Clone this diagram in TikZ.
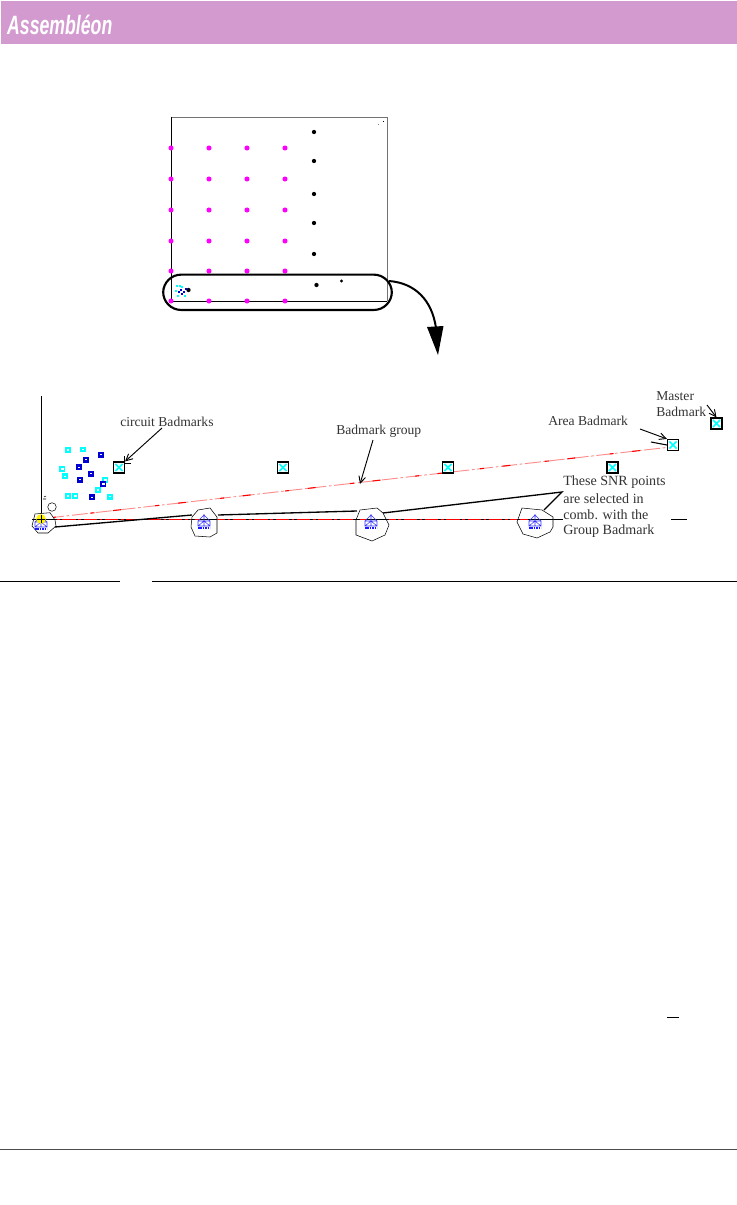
\documentclass[tikz,border=0pt]{standalone}
\usepackage{fontspec}
\setmainfont{Liberation Serif}
\newfontfamily\logofont{Liberation Sans}
\usetikzlibrary{arrows.meta}
\definecolor{hdr}{HTML}{D39ACF}
\definecolor{mag}{HTML}{FF00FF}
\definecolor{cy}{HTML}{00FFFF}
\definecolor{bl}{HTML}{0000D0}
\tikzset{
 lbl/.style={anchor=west,inner sep=0pt,font=\fontsize{10.2pt}{11pt}\selectfont,text=black!80},
 snr/.style={lbl,font=\fontsize{10.55pt}{11pt}\selectfont},
 magdot/.style={circle,fill=mag,draw=none,minimum size=3.8pt,inner sep=0pt},
 blkdot/.style={circle,fill=black,draw=none,minimum size=3.2pt,inner sep=0pt},
 smallc/.style={fill=cy,draw=none,minimum size=4.4pt,inner sep=0pt},
 smallb/.style={fill=bl,draw=none,minimum size=4.4pt,inner sep=0pt},
 badbox/.style={draw=black,line width=1.1pt,fill=white,minimum size=8pt,inner sep=0pt},
 leader/.style={line width=1pt,black},
 arr/.style={line width=.7pt,-{Straight Barb[length=5pt,width=5pt]}},
 blob/.style={draw=black,line width=.4pt,fill=white},
}
\newcommand{\badbox}[3]{%
 \node[badbox] (#1) at (#2,#3) {};
 \draw[cy,line width=1.2pt] (#2-3.6,#3-3.6) -- (#2+3.6,#3+3.6) (#2-3.6,#3+3.6) -- (#2+3.6,#3-3.6);
}
\newcommand{\house}[2]{%
 \draw[blue!80,line width=.4pt] (#1-6,#2+1) rectangle (#1+6,#2+6)
   (#1-6,#2+1) -- (#1,#2-5) -- (#1+6,#2+1) (#1,#2-6) -- (#1,#2+6) (#1-6,#2+6) -- (#1,#2+1) -- (#1+6,#2+6);
 \draw[blue!90,line width=1pt,dash pattern=on 1.2pt off .6pt] (#1-6,#2+8) -- (#1+6,#2+8);
}
\begin{document}
\begin{tikzpicture}[x=0.75pt,y=-0.75pt]
\useasboundingbox (0,0) rectangle (737,1205);
% header
\fill[hdr] (1,1) rectangle (737,44);
\node[anchor=west,inner sep=0pt,text=white,xscale=.68,yscale=1.02] (logo) at (7,24.5) {\logofont\fontsize{19.5pt}{20pt}\selectfont\bfseries\itshape Assembl\'eon};
% board
\coordinate (bTL) at (171,117); \coordinate (bTR) at (387,117);
\coordinate (bBL) at (171,301); \coordinate (bBR) at (387,301);
\draw[black!55,line width=.7pt] (bTL) -- (bTR) -- (bBR);
\draw[black,line width=.7pt] (bTL) -- (bBL) -- (bBR);
\foreach \y [count=\j] in {148,179,210,241,271,301}
 \foreach \x [count=\i] in {171,209,247,285}
  \node[magdot] (m\i\j) at (\x,\y) {};
\foreach \y [count=\j] in {132,161,194,223,254}
 \node[blkdot] (k\j) at (314,\y) {};
\node[blkdot] (k6) at (316.5,285) {};
\node[blkdot,minimum size=2.6pt] (k7) at (341.5,281) {};
\node[blkdot] (k8) at (188.5,290) {};
\fill[black!50] (378,124) rectangle +(1,1);
\fill[black] (383,121) rectangle +(1,1);
% tiny cluster in board
\foreach \p in {(177,286),(180,286),(176,291),(178,296),(185,296),(182,287)}
 \fill[cy] \p +(-1,-1) rectangle +(1,1);
\foreach \p in {(181,290),(184,292),(182,294),(179,292),(186,289)}
 \fill[bl] \p +(-1,-1) rectangle +(1,1);
% highlight
\node[draw=black,line width=1.6pt,rounded corners=13.5pt,minimum width=171.5pt,minimum height=26.5pt,inner sep=0pt] (hl) at (277.5,292.3) {};
\coordinate (cStart) at (389,281);
\coordinate (cEnd) at (436,328);
\draw[line width=1.5pt] (cStart) .. controls (415,283) and (432,300) .. (cEnd);
\fill[black] (427,327) -- (443.5,326) -- (438,355) -- cycle;
% lower axis
\coordinate (axT) at (41.5,396); \coordinate (axB) at (41.5,520);
\draw[black,line width=.8pt] (axT) -- (axB);
\coordinate (hL) at (41,519.5); \coordinate (hR) at (563,519.5);
\draw[black,line width=.7pt] (hL) -- (hR);
\draw[red,line width=.7pt,dash pattern=on 10pt off 2pt on 2pt off 2pt] (hL) -- (518,519.5);
\coordinate (h2L) at (671,519.5); \coordinate (h2R) at (687,519.5);
\draw[black,line width=.7pt] (h2L) -- (h2R);
% red group line
\coordinate (rS) at (48,518); \coordinate (rE) at (671,447);
\draw[red!45,line width=.7pt,dash pattern=on 12pt off 2pt on 2pt off 2pt] (rS) -- (rE);
\draw[red,line width=.8pt,dash pattern=on 6pt off 26pt on 3pt off 14pt] (rS) -- (rE);
% blobs
\draw[blob] (35,514) -- (50,512.7) -- (55,520) -- (56,526) -- (48,533) -- (38,533) -- (32,526) -- cycle;
\draw[blob] (192,517) -- (198,510) -- (210,508) -- (217,517) -- (217,533) -- (210,537) -- (195,536) -- (191,527) -- cycle;
\draw[blob] (356,520) -- (360,510) -- (377,508) -- (383,513) -- (389,525) -- (385,535) -- (372,541) -- (356,535) -- cycle;
\draw[blob] (522,508) -- (542,510) -- (553,517) -- (553,527) -- (550,532) -- (537,538) -- (523,534) -- (517,522) -- cycle;
\draw[black,line width=.7pt] (32,519.5) -- (56,519.5) (191,519.5) -- (217,519.5) (356,519.5) -- (389,519.5) (517,519.5) -- (553,519.5);
\draw[red,line width=.6pt] (195,519.5) -- (200,519.5) (360,519.5) -- (366,519.5) (520,519.5) -- (528,519.5);
\house{41}{521}\house{204}{520}\house{371}{520}\house{535}{520}
\fill[yellow] (41,519) circle (3.6pt);
\draw[black,line width=.4pt] (37,519) -- (45,519) (41,515) -- (41,523);
\coordinate (sm) at (52,507);
\draw[black,line width=.4pt] (sm) circle (3.2pt);
\draw[black,line width=.4pt] (43,499) -- (46,499) (44,497) -- (46,496);
% leaders to SNR text
\coordinate (L0) at (55,527); \coordinate (L1) at (192,515);
\coordinate (L2) at (218,515); \coordinate (L3) at (357,511);
\coordinate (L4) at (383,513); \coordinate (L5) at (562,492); \coordinate (L6) at (544,510);
\draw[leader] (L0) -- (L1) (L2) -- (L3) (L4) -- (L5) -- (L6);
% small squares
\foreach \x/\y [count=\i] in {67.7/450,82.7/449.5,62.3/469,64.7/476.3,67.7/496,75.3/496,109.7/496.7,98/490,105.3/480}{
 \node[smallc] (c\i) at (\x,\y) {};
 \fill[white] (\x-1.2,\y-.6) rectangle (\x+1.2,\y+.6);}
\foreach \x/\y [count=\i] in {100.7/454.7,86/459.7,79/467.3,91/473.7,80/479.7,103.3/484,91.7/497.3}{
 \node[smallb] (d\i) at (\x,\y) {};
 \fill[white] (\x-1.2,\y-.6) rectangle (\x+1.2,\y+.6);}
% bad boxes
\badbox{b1}{119}{467.5}
\badbox{b2}{283}{467.5}
\badbox{b3}{448}{467.5}
\badbox{b4}{612.5}{467.5}
\badbox{b5}{673}{445}
\badbox{b6}{716.5}{423.5}
% labels
\node[lbl] (t1) at (120,421.5) {circuit Badmarks};
\node[lbl] (t2) at (336,431) {Badmark group};
\node[lbl] (t3) at (548,421) {Area Badmark};
\node[lbl] (t4) at (656,396) {Master};
\node[lbl] (t5) at (656,411.5) {Badmark};
\node[snr] (t6) at (563,482.5) {These SNR points};
\node[snr] (t7) at (563,499) {are selected in};
\node[snr] (t8) at (563,515) {comb. with the};
\node[snr] (t9) at (563,531) {Group Badmark};
% arrows
\coordinate (a1) at (162,428);
\draw[arr] (a1) -- (b1.north east);
\coordinate (a2) at (373,440); \coordinate (a2e) at (360,484);
\draw[arr] (a2) -- (a2e);
\coordinate (a3) at (640,429); \coordinate (a3b) at (651,442);
\draw[arr] (a3) -- (b5.north west);
\draw[line width=.8pt] (a3b) -- (b5.west);
\coordinate (a4) at (707,405);
\draw[arr] (a4) -- (b6.north);
\draw[black,line width=.6pt] (124,456) -- (124,462) (125,463) -- (131,463);
% rules
\coordinate (r1) at (0,581); \coordinate (r2) at (120,581);
\coordinate (r3) at (152,581); \coordinate (r4) at (737,581);
\draw[black,line width=.7pt] (r1) -- (r2) (r3) -- (r4);
\coordinate (r5) at (667,1017); \coordinate (r6) at (679,1017);
\draw[black,line width=.7pt] (r5) -- (r6);
\coordinate (r7) at (0,1149); \coordinate (r8) at (737,1149);
\draw[black!70,line width=.7pt] (r7) -- (r8);
\end{tikzpicture}
\end{document}
